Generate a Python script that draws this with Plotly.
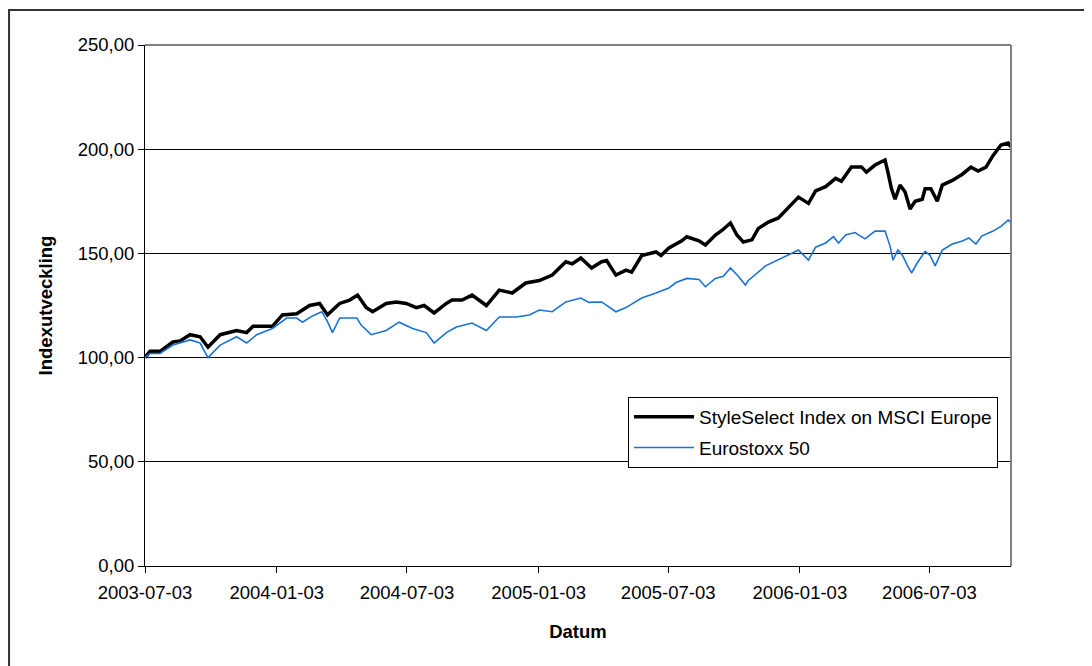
import plotly.graph_objects as go

# StyleSelect Index on MSCI Europe
style_dates = [
    "2003-07-03", "2003-07-10", "2003-07-24", "2003-08-11", "2003-08-21", "2003-09-04", "2003-09-18",
    "2003-09-29", "2003-10-16", "2003-11-08", "2003-11-22", "2003-12-01", "2003-12-28", "2004-01-11",
    "2004-01-31", "2004-02-18", "2004-03-03", "2004-03-14", "2004-03-31", "2004-04-14", "2004-04-25",
    "2004-05-07", "2004-05-16", "2004-06-04", "2004-06-18", "2004-07-02", "2004-07-16", "2004-07-27",
    "2004-08-10", "2004-08-27", "2004-09-04", "2004-09-18", "2004-10-02", "2004-10-22", "2004-11-09",
    "2004-11-27", "2004-12-16", "2005-01-04", "2005-01-22", "2005-02-10", "2005-02-19", "2005-03-03",
    "2005-03-18", "2005-04-01", "2005-04-08", "2005-04-21", "2005-05-05", "2005-05-13", "2005-05-27",
    "2005-06-16", "2005-06-23", "2005-07-04", "2005-07-22", "2005-07-29", "2005-08-15", "2005-08-24",
    "2005-09-07", "2005-09-16", "2005-09-28", "2005-10-07", "2005-10-16", "2005-10-28", "2005-11-06",
    "2005-11-20", "2005-12-04", "2005-12-18", "2006-01-01", "2006-01-15", "2006-01-25", "2006-02-08",
    "2006-02-22", "2006-03-02", "2006-03-16", "2006-03-30", "2006-04-06", "2006-04-18", "2006-05-02",
    "2006-05-06", "2006-05-11", "2006-05-16", "2006-05-23", "2006-05-30", "2006-06-06", "2006-06-13",
    "2006-06-23", "2006-06-27", "2006-07-05", "2006-07-14", "2006-07-21", "2006-08-04", "2006-08-18",
    "2006-08-30", "2006-09-09", "2006-09-20", "2006-09-30", "2006-10-11", "2006-10-21", "2006-10-25",
]
style_values = [
    100, 103, 103, 107.5, 108, 111, 110,
    105, 111, 113, 112, 115, 115, 120.5,
    121, 125, 126, 120.5, 126, 127.6, 130,
    124, 122, 126, 126.7, 126, 124, 125,
    121.4, 126, 127.6, 127.6, 130, 125, 132.4,
    131, 135.8, 137, 139.6, 146, 145, 147.8,
    143, 146, 146.6, 139.6, 142, 141, 149,
    150.7, 149, 152.6, 156, 158, 156, 154,
    158.8, 161, 164.6, 158.8, 155.5, 156.5, 162,
    165, 167, 171.8, 177, 174, 180, 182,
    186, 184.6, 191.5, 191.5, 189, 192.4, 194.8,
    189, 181, 176, 182.8, 179.5, 171.3, 175,
    176, 181, 181, 175, 182.8, 185, 188,
    191.4, 189.5, 191.4, 197, 202, 203, 201,
]

# Eurostoxx 50
euro_dates = [
    "2003-07-03", "2003-07-10", "2003-07-24", "2003-08-11", "2003-09-04", "2003-09-18", "2003-09-29",
    "2003-10-16", "2003-11-08", "2003-11-22", "2003-12-06", "2003-12-28", "2004-01-17", "2004-01-31",
    "2004-02-08", "2004-02-22", "2004-03-06", "2004-03-13", "2004-03-21", "2004-03-31", "2004-04-24",
    "2004-04-30", "2004-05-14", "2004-06-04", "2004-06-22", "2004-07-11", "2004-07-30", "2004-08-10",
    "2004-08-27", "2004-09-10", "2004-10-02", "2004-10-22", "2004-11-09", "2004-12-03", "2004-12-21",
    "2005-01-04", "2005-01-22", "2005-02-10", "2005-03-03", "2005-03-14", "2005-04-01", "2005-04-21",
    "2005-05-05", "2005-05-27", "2005-06-16", "2005-07-04", "2005-07-14", "2005-07-29", "2005-08-15",
    "2005-08-24", "2005-09-07", "2005-09-18", "2005-09-28", "2005-10-09", "2005-10-19", "2005-10-23",
    "2005-11-16", "2005-12-08", "2006-01-01", "2006-01-15", "2006-01-25", "2006-02-08", "2006-02-19",
    "2006-02-26", "2006-03-08", "2006-03-21", "2006-04-04", "2006-04-18", "2006-05-02", "2006-05-09",
    "2006-05-13", "2006-05-20", "2006-05-27", "2006-06-02", "2006-06-08", "2006-06-16", "2006-06-27",
    "2006-07-04", "2006-07-11", "2006-07-21", "2006-08-04", "2006-08-18", "2006-08-27", "2006-09-06",
    "2006-09-14", "2006-09-30", "2006-10-11", "2006-10-21", "2006-10-25",
]
euro_values = [
    100, 102, 102, 106, 108.5, 107, 100,
    106, 110, 107, 111, 114, 119, 119,
    117, 120, 122, 118, 112, 119, 119,
    115.6, 111, 113, 117, 114, 112, 107,
    112, 114.7, 116.6, 113, 119.5, 119.5, 120.4,
    122.8, 122, 126.7, 128.6, 126.5, 126.7, 122,
    124, 128.6, 131, 133.4, 136, 138, 137.5,
    134, 138, 139, 143, 139, 134.8, 137,
    144, 147.8, 151.6, 146.8, 153, 155, 158,
    155, 158.8, 160, 157, 160.7, 160.7, 153.5,
    146.8, 151.6, 148.7, 144.4, 140.6, 145.4, 151,
    149, 144, 151.6, 154.5, 156, 157.4, 154.5,
    158.3, 160.7, 163, 166, 164.8,
]

x_tick_dates = ["2003-07-03", "2004-01-03", "2004-07-03", "2005-01-03",
                "2005-07-03", "2006-01-03", "2006-07-03"]
x_range = ["2003-07-03", "2006-10-25"]
y_ticks = [0, 50, 100, 150, 200, 250]

FONT = "Liberation Sans, Arial, sans-serif"
TICK_SIZE = 18.5

fig = go.Figure()
fig.add_trace(go.Scatter(
    x=style_dates, y=style_values, mode="lines",
    name="StyleSelect Index on MSCI Europe",
    line=dict(color="#000000", width=3.5), legendgroup="a",
))
fig.add_trace(go.Scatter(
    x=euro_dates, y=euro_values, mode="lines",
    name="Eurostoxx 50",
    line=dict(color="#1a72d9", width=1.6), legendgroup="b",
))

fig.update_layout(
    width=1092, height=666,
    margin=dict(l=137, r=89, t=37, b=108),
    paper_bgcolor="white", plot_bgcolor="white",
    separators=",.",
    font=dict(family=FONT, size=TICK_SIZE, color="#000000"),
    showlegend=True,
    legend=dict(
        x=0.5577, y=0.3245, xanchor="left", yanchor="top",
        bgcolor="white", bordercolor="#000000", borderwidth=1,
        font=dict(family=FONT, size=19, color="#000000"),
        tracegroupgap=3, traceorder="grouped",
        itemwidth=60,
    ),
    xaxis=dict(
        type="date", range=x_range,
        tickvals=x_tick_dates, ticktext=x_tick_dates,
        ticks="outside", ticklen=6, tickcolor="#000000", tickwidth=1,
        ticklabelstandoff=4,
        showline=True, linecolor="#000000", linewidth=1,
        showgrid=False, zeroline=False,
        tickfont=dict(family=FONT, size=TICK_SIZE),
        title=dict(text="<b>Datum</b>", font=dict(family=FONT, size=TICK_SIZE), standoff=22),
    ),
    yaxis=dict(
        range=[0, 250], tickvals=y_ticks, tickformat=".2f",
        ticks="outside", ticklen=6, tickcolor="#000000", tickwidth=1,
        showline=True, linecolor="#000000", linewidth=1,
        showgrid=True, gridcolor="#000000", gridwidth=1,
        zeroline=False,
        tickfont=dict(family=FONT, size=TICK_SIZE),
        title=dict(text="<b>Indexutveckling</b>", font=dict(family=FONT, size=TICK_SIZE), standoff=20),
    ),
    shapes=[
        # plot-area border (top and right, grey)
        dict(type="line", xref="paper", yref="paper", x0=0, x1=1, y0=1, y1=1,
             line=dict(color="#808080", width=2), layer="above"),
        dict(type="line", xref="paper", yref="paper", x0=1, x1=1, y0=0, y1=1,
             line=dict(color="#808080", width=2), layer="above"),
        # outer chart-area border
        dict(type="rect", xref="paper", yref="paper",
             x0=-0.157, x1=1.12, y0=-0.25, y1=1.0672,
             line=dict(color="#333333", width=2), fillcolor="rgba(0,0,0,0)", layer="above"),
    ],
)

fig.write_html("out.html")
